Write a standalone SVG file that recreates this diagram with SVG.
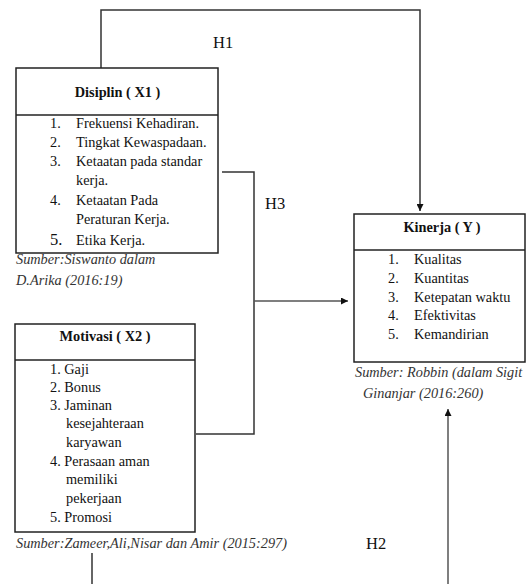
<svg xmlns="http://www.w3.org/2000/svg" width="527" height="584" viewBox="0 0 527 584" font-family="Liberation Serif, Times New Roman, serif">
<defs>
<style>
.box{fill:#fff;stroke:#222;stroke-width:1.5}
.ln{fill:none;stroke:#333;stroke-width:1.5}
.lg{fill:none;stroke:#555;stroke-width:1.5}
.t{font-size:14.3px;fill:#111}
.b{font-weight:bold;text-anchor:middle}
.src{font-style:italic;font-size:14.3px;fill:#333}
.h{font-size:16.5px;fill:#111}
</style>
<marker id="arr" viewBox="0 0 10 10" refX="10" refY="5" markerWidth="7" markerHeight="7" orient="auto-start-reverse" markerUnits="userSpaceOnUse">
<path d="M0,0 L10,5 L0,10 z" fill="#111"/>
</marker>
</defs>
<rect width="527" height="584" fill="#fff"/>
<g id="connectors">
<path class="ln" d="M101,68 V10 H420 V211" marker-end="url(#arr)"/>
<path class="ln" d="M222,172 H254 V434 H196"/>
<path class="lg" d="M254,301 H348" marker-end="url(#arr)"/>
<path class="lg" d="M448,584 V409" marker-end="url(#arr)"/>
<path class="ln" d="M92,553 V584"/>
<text class="h" x="213" y="48">H1</text>
<text class="h" x="265" y="209">H3</text>
<text class="h" x="366" y="549">H2</text>
</g>
<g id="disiplin">
<rect class="box" x="16" y="68" width="202" height="185"/>
<line class="box" x1="16" y1="115" x2="218" y2="115"/>
<text class="t b" x="117.5" y="97">Disiplin ( X1 )</text>
<text class="t" x="50" y="128">1.</text><text class="t" x="76" y="128">Frekuensi Kehadiran.</text>
<text class="t" x="50" y="147">2.</text><text class="t" x="76" y="147">Tingkat Kewaspadaan.</text>
<text class="t" x="50" y="166">3.</text><text class="t" x="76" y="166">Ketaatan pada standar</text>
<text class="t" x="76" y="185">kerja.</text>
<text class="t" x="50" y="205">4.</text><text class="t" x="76" y="205">Ketaatan Pada</text>
<text class="t" x="76" y="224">Peraturan Kerja.</text>
<text class="t" x="50" y="245" style="font-size:16.5px">5.</text><text class="t" x="76" y="245">Etika Kerja.</text>
<text class="src" x="16" y="264">Sumber:Siswanto dalam</text>
<text class="src" x="16" y="285">D.Arika (2016:19)</text>
</g>
<g id="motivasi">
<rect class="box" x="15" y="324" width="180" height="208"/>
<line class="box" x1="15" y1="360" x2="195" y2="360"/>
<text class="t b" x="105" y="341">Motivasi ( X2 )</text>
<text class="t" x="50" y="374">1. Gaji</text>
<text class="t" x="50" y="392">2. Bonus</text>
<text class="t" x="50" y="410">3. Jaminan</text>
<text class="t" x="66" y="428">kesejahteraan</text>
<text class="t" x="66" y="447">karyawan</text>
<text class="t" x="50" y="466">4. Perasaan aman</text>
<text class="t" x="66" y="484">memiliki</text>
<text class="t" x="66" y="503">pekerjaan</text>
<text class="t" x="50" y="522">5. Promosi</text>
<text class="src" x="16" y="548">Sumber:Zameer,Ali,Nisar dan Amir (2015:297)</text>
</g>
<g id="kinerja">
<rect class="box" x="354" y="214" width="171" height="148"/>
<line class="box" x1="354" y1="250" x2="525" y2="250"/>
<text class="t b" x="442" y="232">Kinerja ( Y )</text>
<text class="t" x="388" y="264">1.</text><text class="t" x="414" y="264">Kualitas</text>
<text class="t" x="388" y="283">2.</text><text class="t" x="414" y="283">Kuantitas</text>
<text class="t" x="388" y="302">3.</text><text class="t" x="414" y="302">Ketepatan waktu</text>
<text class="t" x="388" y="320">4.</text><text class="t" x="414" y="320">Efektivitas</text>
<text class="t" x="388" y="339">5.</text><text class="t" x="414" y="339">Kemandirian</text>
<text class="src" x="355" y="377">Sumber: Robbin (dalam Sigit</text>
<text class="src" x="363" y="398">Ginanjar (2016:260)</text>
</g>
</svg>
